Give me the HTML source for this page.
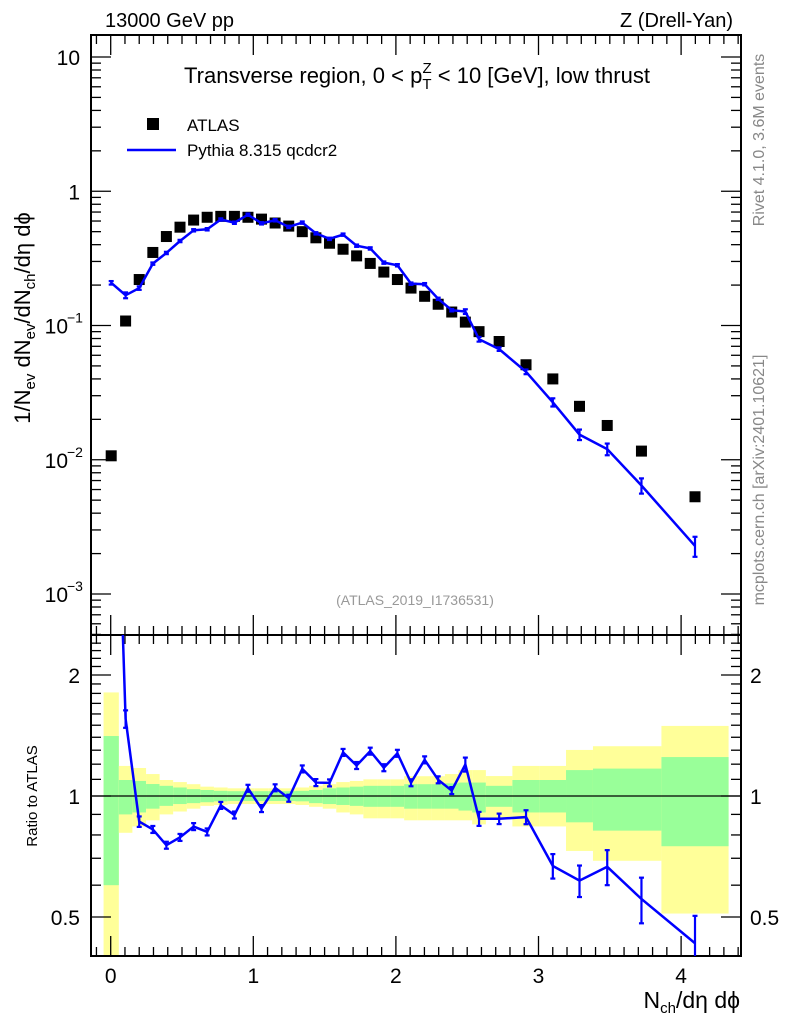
<!DOCTYPE html>
<html><head><meta charset="utf-8"><style>
body{margin:0;background:#fff;}
svg{display:block;font-family:"Liberation Sans",sans-serif;}
</style></head><body>
<svg id="chart" width="786" height="1024" viewBox="0 0 786 1024" xmlns="http://www.w3.org/2000/svg">
<g id="bands"></g><g id="grid"></g><g id="marks"></g><g id="labels"></g>
</svg>
<script>
const binEdges=[-0.05,0.057,0.152,0.248,0.343,0.438,0.534,0.629,0.724,0.820,0.915,1.010,1.105,1.201,1.296,1.391,1.487,1.582,1.677,1.772,1.868,1.963,2.058,2.154,2.249,2.344,2.439,2.535,2.631,2.817,3.008,3.193,3.382,3.582,3.862,4.333];
const atlasValues=[0.0107,0.108,0.22,0.35,0.46,0.54,0.61,0.64,0.65,0.65,0.64,0.62,0.58,0.55,0.50,0.45,0.41,0.37,0.33,0.29,0.25,0.22,0.19,0.165,0.144,0.126,0.106,0.09,0.076,0.051,0.040,0.025,0.018,0.0116,0.0053];
const pythiaValues=[0.208,0.168,0.19,0.289,0.347,0.426,0.512,0.521,0.616,0.583,0.669,0.577,0.608,0.543,0.584,0.486,0.442,0.475,0.393,0.375,0.294,0.281,0.205,0.203,0.158,0.130,0.127,0.079,0.0667,0.0452,0.0268,0.0154,0.012,0.00643,0.00228];
const pythiaRelErr=[0.03,0.05,0.03,0.02,0.02,0.02,0.02,0.02,0.02,0.02,0.02,0.02,0.02,0.02,0.02,0.02,0.02,0.02,0.02,0.02,0.02,0.02,0.02,0.02,0.02,0.02,0.04,0.04,0.03,0.04,0.07,0.09,0.1,0.13,0.17];
const yellowHi=[1.81,1.188,1.174,1.134,1.096,1.083,1.07,1.055,1.05,1.045,1.045,1.045,1.045,1.045,1.05,1.06,1.07,1.083,1.09,1.10,1.10,1.10,1.12,1.12,1.12,1.134,1.16,1.16,1.121,1.188,1.188,1.302,1.33,1.33,1.494];
const yellowLo=[0.3,0.81,0.84,0.87,0.90,0.915,0.93,0.945,0.95,0.955,0.955,0.955,0.955,0.955,0.95,0.94,0.93,0.91,0.90,0.88,0.88,0.88,0.87,0.87,0.87,0.87,0.87,0.85,0.88,0.84,0.84,0.73,0.69,0.69,0.51];
const greenHi=[1.41,1.096,1.09,1.071,1.06,1.05,1.04,1.035,1.03,1.028,1.028,1.028,1.028,1.028,1.03,1.035,1.045,1.05,1.055,1.06,1.06,1.06,1.07,1.07,1.07,1.075,1.08,1.08,1.06,1.096,1.096,1.16,1.17,1.17,1.25];
const greenLo=[0.60,0.90,0.91,0.93,0.945,0.955,0.96,0.965,0.97,0.972,0.972,0.972,0.972,0.972,0.97,0.96,0.955,0.95,0.945,0.94,0.94,0.94,0.93,0.93,0.93,0.93,0.92,0.91,0.94,0.91,0.91,0.86,0.82,0.82,0.75];
const xTicks=[0,1,2,3,4];

const NS="http://www.w3.org/2000/svg";
const L=91,R=741,T=35,MB=635,RB=956;
const X=v=>110.7+v*142.6;
const Y=v=>57+(1-Math.log10(v))*134.25;
const RY=r=>796-Math.log2(r)*121;
const RYc=r=>Math.max(MB,Math.min(RB,RY(r)));
function el(tag,attrs,parent,text){const e=document.createElementNS(NS,tag);for(const k in attrs)e.setAttribute(k,attrs[k]);if(text!==undefined)e.textContent=text;parent.appendChild(e);return e;}
const bands=document.getElementById('bands'),grid=document.getElementById('grid'),marks=document.getElementById('marks'),labels=document.getElementById('labels');

for(let i=0;i<atlasValues.length;i++){
  const x0=X(binEdges[i]),x1=X(binEdges[i+1]);
  const y=el('rect',{x:x0,y:RYc(yellowHi[i]),width:x1-x0,height:RYc(yellowLo[i])-RYc(yellowHi[i]),fill:'#ffff99'},bands);
  
  
  const g=el('rect',{x:x0,y:RYc(greenHi[i]),width:x1-x0,height:RYc(greenLo[i])-RYc(greenHi[i]),fill:'#99ff99'},bands);
  
  
}
el('rect',{x:L,y:T,width:R-L,height:MB-T,fill:'none',stroke:'#000','stroke-width':2},grid);
el('rect',{x:L,y:MB,width:R-L,height:RB-MB,fill:'none',stroke:'#000','stroke-width':2},grid);
el('line',{x1:L,x2:R,y1:796,y2:796,stroke:'#000','stroke-width':1.3},grid);
for(let v=-0.1;v<=4.4;v+=0.1){const vv=Math.round(v*10)/10;const x=X(vv);if(x<L||x>R)continue;const major=Math.abs(vv-Math.round(vv))<1e-6;const len=major?20:9;
 for(const [a,b] of [[T,T+len],[MB,MB-len],[MB,MB+len],[RB,RB-len]])el('line',{x1:x,x2:x,y1:a,y2:b,stroke:'#000','stroke-width':1.3},grid);}
for(let e=-4;e<=1;e++)for(let m=1;m<10;m++){const v=m*Math.pow(10,e);const y=Y(v);if(y<T||y>MB)continue;const len=m===1?20:10;
 el('line',{x1:L,x2:L+len,y1:y,y2:y,stroke:'#000','stroke-width':1.3},grid);el('line',{x1:R,x2:R-len,y1:y,y2:y,stroke:'#000','stroke-width':1.3},grid);}
for(let r=0.4;r<=2.5;r+=0.1){const rr=Math.round(r*10)/10;const y=RY(rr);if(y<MB||y>RB)continue;const len=(rr===0.5||rr===1||rr===2)?20:10;
 el('line',{x1:L,x2:L+len,y1:y,y2:y,stroke:'#000','stroke-width':1.3},grid);el('line',{x1:R,x2:R-len,y1:y,y2:y,stroke:'#000','stroke-width':1.3},grid);}
xTicks.forEach(v=>{const t=el('text',{x:X(v),y:983,'font-size':21,'text-anchor':'middle'},labels,String(v));});
[[10,'10',null],[1,'1',null],[0.1,'10','−1'],[0.01,'10','−2'],[0.001,'10','−3']].forEach(([v,b,s])=>{
 const t=el('text',{x:s?68:80,y:Y(v)+8,'font-size':21,'text-anchor':'end'},labels,b);
 
 if(s){el('text',{x:67,y:Y(v)-3,'font-size':14},labels,s);}
});
[[2,'2'],[1,'1'],[0.5,'0.5']].forEach(([r,s])=>{
 const a=el('text',{x:80,y:RY(r)+8,'font-size':21,'text-anchor':'end'},labels,s);
 const b=el('text',{x:750,y:RY(r)+8,'font-size':21},labels,s);
});
atlasValues.forEach((v,i)=>{const cx=(binEdges[i]+binEdges[i+1])/2;const s=el('rect',{x:X(cx)-5.5,y:Y(v)-5.5,width:11,height:11,fill:'#000'},marks);
 });
const clipM=el('clipPath',{id:'cm'},marks);el('rect',{x:L,y:T,width:R-L,height:MB-T},clipM);
const clipR=el('clipPath',{id:'cr'},marks);el('rect',{x:L,y:MB,width:R-L,height:RB-MB},clipR);
const centers=atlasValues.map((_,i)=>(binEdges[i]+binEdges[i+1])/2);
const pm=el('polyline',{points:pythiaValues.map((v,i)=>X(centers[i])+','+Y(v)).join(' '),fill:'none',stroke:'#0000ff','stroke-width':2.5,'clip-path':'url(#cm)'},marks);

const ratios=pythiaValues.map((v,i)=>v/atlasValues[i]);
const pr=el('polyline',{points:ratios.map((r,i)=>X(centers[i])+','+RY(r)).join(' '),fill:'none',stroke:'#0000ff','stroke-width':2.5,'clip-path':'url(#cr)'},marks);

pythiaValues.forEach((v,i)=>{const x=X(centers[i]);const e=pythiaRelErr[i];
 const g1=el('g',{stroke:'#0000ff','stroke-width':2.2,'clip-path':'url(#cm)'},marks);
 
 const a=Y(v*(1+e)),b=Y(v*(1-e));
 el('line',{x1:x,x2:x,y1:a,y2:b},g1);el('line',{x1:x-2.5,x2:x+2.5,y1:a,y2:a},g1);el('line',{x1:x-2.5,x2:x+2.5,y1:b,y2:b},g1);
 const g2=el('g',{stroke:'#0000ff','stroke-width':2.2,'clip-path':'url(#cr)'},marks);
 
 const r=ratios[i];const c=RY(r*(1+e)),d=RY(r*(1-e));
 el('line',{x1:x,x2:x,y1:c,y2:d},g2);el('line',{x1:x-2.5,x2:x+2.5,y1:c,y2:c},g2);el('line',{x1:x-2.5,x2:x+2.5,y1:d,y2:d},g2);
});
</script>
<svg style="position:absolute;left:0;top:0" width="786" height="1024" xmlns="http://www.w3.org/2000/svg" font-family="Liberation Sans, sans-serif">
<text x="105" y="27" font-size="20">13000 GeV pp</text>
<text x="733" y="27" font-size="20" text-anchor="end">Z (Drell-Yan)</text>
<text x="417" y="83" font-size="22" text-anchor="middle">Transverse region, 0 &lt; p<tspan font-size="15" dy="6">T</tspan><tspan font-size="15" dx="-9" dy="-16">Z</tspan><tspan dy="10"> &lt; 10 [GeV], low thrust</tspan></text>
<rect x="147" y="118" width="12" height="12" fill="#000"/>
<text x="187" y="131" font-size="17">ATLAS</text>
<line x1="127" x2="176" y1="150" y2="150" stroke="#0000ff" stroke-width="2.5"/>
<text x="187" y="156" font-size="17">Pythia 8.315 qcdcr2</text>
<text x="415" y="605" font-size="14" fill="#999" text-anchor="middle">(ATLAS_2019_I1736531)</text>
<text transform="translate(30,318) rotate(-90)" font-size="22" text-anchor="middle">1/N<tspan font-size="15" dy="5">ev</tspan><tspan dy="-5"> dN</tspan><tspan font-size="15" dy="5">ev</tspan><tspan dy="-5">/dN</tspan><tspan font-size="15" dy="5">ch</tspan><tspan dy="-5">/dη dϕ</tspan></text>
<text transform="translate(37,796) rotate(-90)" font-size="15" text-anchor="middle">Ratio to ATLAS</text>
<text x="740" y="1008" font-size="23" text-anchor="end">N<tspan font-size="15" dy="5">ch</tspan><tspan dy="-5">/dη dϕ</tspan></text>
<text transform="translate(764,140) rotate(-90)" font-size="16" fill="#888" text-anchor="middle">Rivet 4.1.0, 3.6M events</text>
<text transform="translate(764,480) rotate(-90)" font-size="16" fill="#888" text-anchor="middle">mcplots.cern.ch [arXiv:2401.10621]</text>
</svg>
</body></html>
